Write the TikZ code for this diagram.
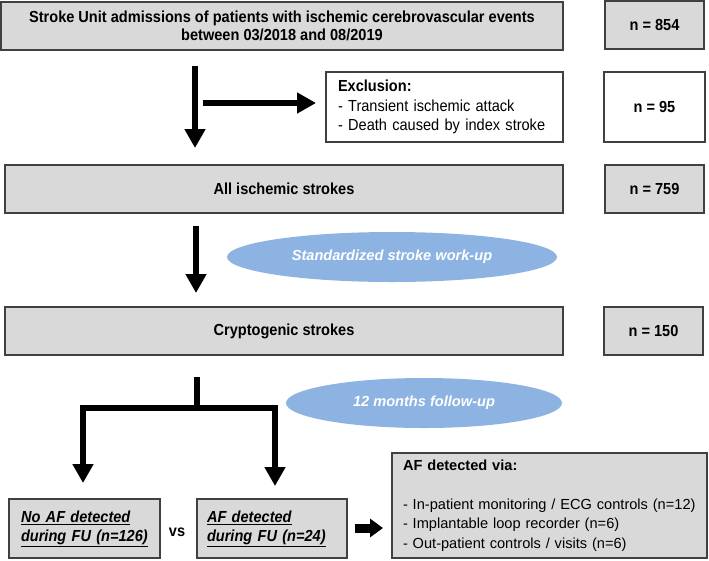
\documentclass[tikz,border=0pt]{standalone}
\usepackage{fontspec}
\setmainfont{Liberation Sans}
\newfontfamily\nfont{Liberation Sans}[FakeStretch=0.91]
\usetikzlibrary{arrows.meta,shapes.geometric}
\definecolor{boxgray}{HTML}{D9D9D9}
\definecolor{boxline}{HTML}{404040}
\definecolor{ellblue}{HTML}{8DB3E2}
\begin{document}
\begin{tikzpicture}[x=1pt,y=-1pt,
  every node/.style={font=\fontsize{14.6}{18}\selectfont, inner sep=0pt, outer sep=0pt},
  nf/.style={font=\fontsize{16}{18}\nfont\selectfont\bfseries},
  gbox/.style={draw=boxline, fill=boxgray, line width=1.3pt, align=center, nf},
  wbox/.style={draw=boxline, fill=white, line width=1.3pt},
  ell/.style={shape=ellipse, fill=ellblue, text=white, font=\fontsize{14.6}{18}\selectfont\bfseries\itshape},
  bigarrow/.style={line width=6pt, -{Triangle[width=20pt,length=19pt]}},
  resbox/.style={draw=boxline, fill=boxgray, line width=1.3pt, align=left, font=\fontsize{16}{19}\nfont\selectfont\bfseries\itshape},
]
\useasboundingbox (0,0) rectangle (709,560);

% row 1
\node[gbox, minimum width=562pt, minimum height=48pt] (b1) at (282,26)
  {Stroke Unit admissions of patients with ischemic cerebrovascular events\\between 03/2018 and 08/2019};
\node[gbox, minimum width=99pt, minimum height=48pt] (n1) at (654.5,25) {n = 854};

% exclusion
\node[wbox, minimum width=237pt, minimum height=70pt, text width=213pt, align=left,
  font=\fontsize{16}{19.5}\nfont\selectfont] (excl) at (444.5,107)
  {\textbf{Exclusion:}\\- Transient ischemic attack\\- Death caused by index stroke};
\node[wbox, minimum width=101pt, minimum height=70pt, nf] (n2) at (654.5,107) {n = 95};

% row 3
\node[gbox, minimum width=558pt, minimum height=48pt] (b3) at (284,189) {All ischemic strokes};
\node[gbox, minimum width=99pt, minimum height=48pt] (n3) at (654.5,189) {n = 759};

\node[ell, minimum width=330pt, minimum height=50pt] (e1) at (392,257) {Standardized stroke work-up};

% row 4
\node[gbox, minimum width=558pt, minimum height=48pt] (b4) at (284,331) {Cryptogenic strokes};
\node[gbox, minimum width=99pt, minimum height=48pt] (n4) at (653.5,331) {n = 150};

\node[ell, minimum width=276pt, minimum height=50pt] (e2) at (424,403) {12 months follow-up};

% bottom
\node[resbox, minimum width=151pt, minimum height=59pt, text width=127pt] (bl) at (84.5,528.5)
  {\underline{No AF detected}\\\underline{during FU (n=126)}};
\node[nf] (vs) at (177,532) {vs};
\node[resbox, minimum width=150pt, minimum height=59pt, text width=130pt] (br) at (272,528.5)
  {\underline{AF detected}\\\underline{during FU (n=24)}};
\node[draw=boxline, fill=boxgray, line width=1.3pt, minimum width=315pt, minimum height=105pt,
  text width=293pt, align=left, font=\fontsize{14.6}{19.5}\selectfont] (via) at (549.5,505.5)
  {\textbf{AF detected via:}\\[19.5pt]- In-patient monitoring / ECG controls (n=12)\\- Implantable loop recorder (n=6)\\- Out-patient controls / visits (n=6)};

% arrows
\coordinate (a1s) at (195,66);
\coordinate (a1e) at (195,148);
\draw[bigarrow] (a1s) -- (a1e);
\coordinate (a2s) at (203,103);
\coordinate (a2e) at (316,103);
\draw[bigarrow] (a2s) -- (a2e);
\coordinate (a3s) at (196,226);
\coordinate (a3e) at (196,293);
\draw[bigarrow] (a3s) -- (a3e);

\coordinate (t0) at (197,377);
\coordinate (tj) at (197,408);
\coordinate (tl) at (83,483);
\coordinate (tr) at (275,486);
\draw[line width=6pt] (t0) -- (tj);
\draw[bigarrow, line join=miter] (tj) -| (tl);
\draw[bigarrow, line join=miter] (tj) -| (tr);

\coordinate (s1) at (355,528);
\coordinate (s2) at (383,528);
\draw[line width=9pt, -{Triangle[width=18pt,length=13pt]}] (s1) -- (s2);
\end{tikzpicture}
\end{document}
